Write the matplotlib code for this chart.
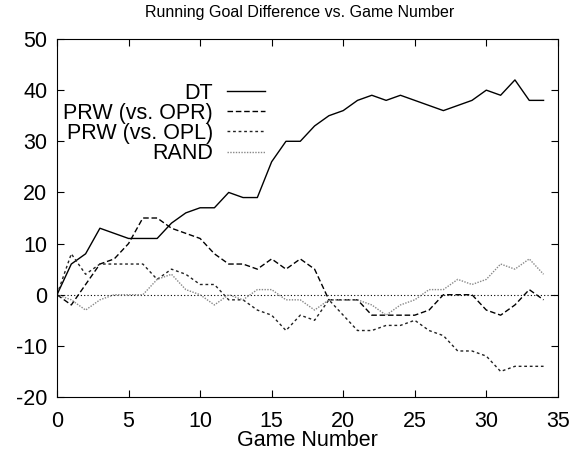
import matplotlib
matplotlib.use("Agg")
from matplotlib import pyplot as plt

plt.rcParams['font.family'] = ['Liberation Sans', 'DejaVu Sans']
plt.rcParams['axes.unicode_minus'] = False

games = list(range(35))
dt = [0, 6, 8, 13, 12, 11, 11, 11, 14, 16, 17, 17, 20, 19, 19, 26, 30, 30, 33, 35,
      36, 38, 39, 38, 39, 38, 37, 36, 37, 38, 40, 39, 42, 38, 38]
prw_opr = [0, -2, 2, 6, 7, 10, 15, 15, 13, 12, 11, 8, 6, 6, 5, 7, 5, 7, 5, -1,
           -1, -1, -4, -4, -4, -4, -3, 0, 0, 0, -3, -4, -2, 1, -1]
prw_opl = [0, 8, 4, 6, 6, 6, 6, 3, 5, 4, 2, 2, -1, -1, -3, -4, -7, -4, -5, -1,
           -4, -7, -7, -6, -6, -5, -7, -8, -11, -11, -12, -15, -14, -14, -14]
rand = [0, -1, -3, -1, 0, 0, 0, 3, 4, 1, 0, -2, 0, -1, 1, 1, -1, -1, -3, -1,
        -1, -1, -2, -4, -2, -1, 1, 1, 3, 2, 3, 6, 5, 7, 4]

xticks = [0, 5, 10, 15, 20, 25, 30, 35]
yticks = [-20, -10, 0, 10, 20, 30, 40, 50]

fig = plt.figure(figsize=(5.71, 4.53), dpi=100)
ax = fig.add_axes([0.0998, 0.1236, 0.8772, 0.7903])

fs = 15.5
ax.axhline(0, color='black', lw=0.8, dashes=(1, 2))  # zero axis
ax.plot(games, dt, color='black', lw=1.0, label='DT')
ax.plot(games, prw_opr, color='black', lw=1.0, dashes=(4, 2), label='PRW (vs. OPR)')
ax.plot(games, prw_opl, color='#222222', lw=1.0, dashes=(2, 2), label='PRW (vs. OPL)')
ax.plot(games, rand, color='#888888', lw=1.0, dashes=(1, 1), label='RAND')

ax.set_xlim(0, 35)
ax.set_ylim(-20, 50)
ax.set_xticks(xticks)
ax.set_yticks(yticks)
ax.tick_params(direction='in', length=5, width=0.8, top=True, right=True,
               labelsize=fs)
ax.tick_params(axis='x', pad=10)
ax.tick_params(axis='y', pad=7)
for s in ax.spines.values():
    s.set_linewidth(0.8)

ax.set_title('Running Goal Difference vs. Game Number', fontsize=11.5, pad=16, x=0.485)
ax.set_xlabel('Game Number', fontsize=fs, labelpad=-1.5)

ax.legend(loc='upper right', bbox_to_anchor=(0.415, 0.878), frameon=False,
          markerfirst=False, fontsize=fs, handlelength=1.77, handletextpad=0.65,
          labelspacing=-0.04, borderaxespad=0, borderpad=0)

fig.savefig('out.png', dpi=100)
